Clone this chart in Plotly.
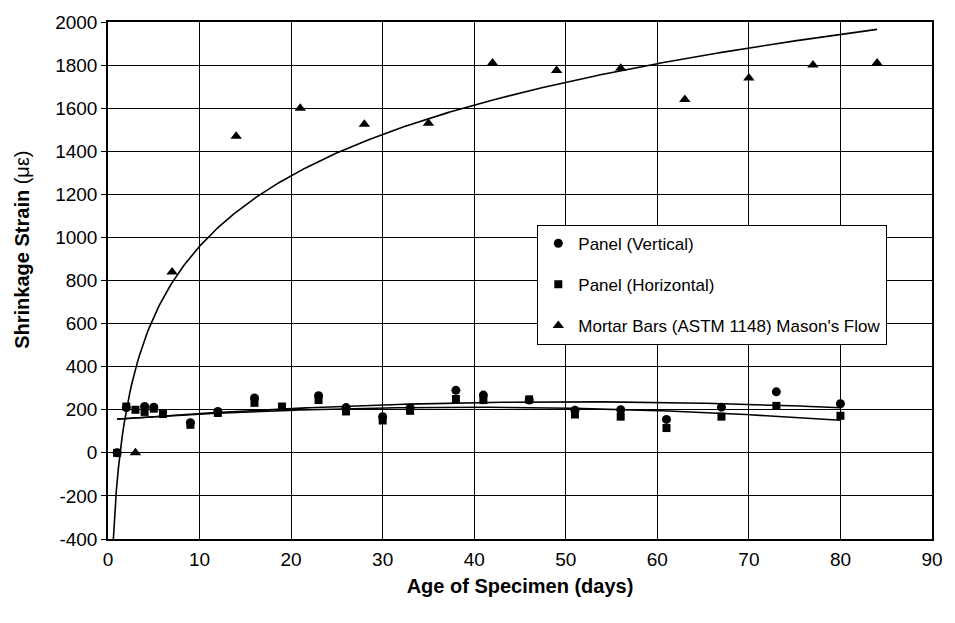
import numpy as np
import plotly.graph_objects as go

# Data
vert_days = [1, 2, 4, 5, 9, 12, 16, 23, 26, 30, 33, 38, 41, 46, 51, 56, 61, 67, 73, 80]
vert_vals = [0, 210, 215, 212, 140, 192, 255, 265, 210, 168, 208, 290, 268, 245, 198, 200, 155, 212, 283, 228]

horiz_days = [1, 2, 3, 4, 5, 6, 9, 12, 16, 19, 23, 26, 30, 33, 38, 41, 46, 51, 56, 61, 67, 73, 80]
horiz_vals = [0, 215, 200, 190, 205, 180, 130, 185, 232, 215, 245, 192, 150, 195, 250, 245, 248, 178, 168, 115, 168, 218, 172]

mortar_days = [3, 7, 14, 21, 28, 35, 42, 49, 56, 63, 70, 77, 84]
mortar_vals = [0, 840, 1470, 1600, 1525, 1530, 1810, 1775, 1785, 1640, 1740, 1800, 1810]

x_ticks = [0, 10, 20, 30, 40, 50, 60, 70, 80, 90]
y_ticks = [-400, -200, 0, 200, 400, 600, 800, 1000, 1200, 1400, 1600, 1800, 2000]
y_tick_text = [str(v) for v in y_ticks]

# Trendlines (fitted from the data)
mx = np.array(mortar_days, float)
my = np.array(mortar_vals, float)
a, b = np.polyfit(np.log(mx), my, 1)
x_log = np.linspace(0.5, max(mortar_days), 400)
y_log = a * np.log(x_log) + b

pv = np.polyfit(vert_days, vert_vals, 2)
ph = np.polyfit(horiz_days, horiz_vals, 2)
x_poly = np.linspace(1, 80, 200)

fig = go.Figure()
fig.add_trace(go.Scatter(x=x_log, y=y_log, mode="lines", line=dict(color="black", width=1.6),
                         showlegend=False, hoverinfo="skip"))
fig.add_trace(go.Scatter(x=x_poly, y=np.polyval(pv, x_poly), mode="lines",
                         line=dict(color="black", width=1.6), showlegend=False, hoverinfo="skip"))
fig.add_trace(go.Scatter(x=x_poly, y=np.polyval(ph, x_poly), mode="lines",
                         line=dict(color="black", width=1.6), showlegend=False, hoverinfo="skip"))

fig.add_trace(go.Scatter(x=vert_days, y=vert_vals, mode="markers", name="Panel (Vertical)",
                         legendgroup="g1",
                         marker=dict(symbol="circle", color="black", size=9)))
fig.add_trace(go.Scatter(x=horiz_days, y=horiz_vals, mode="markers", name="Panel (Horizontal)",
                         legendgroup="g2",
                         marker=dict(symbol="square", color="black", size=8)))
fig.add_trace(go.Scatter(x=mortar_days, y=mortar_vals, mode="markers",
                         name="Mortar Bars (ASTM 1148) Mason's Flow", legendgroup="g3",
                         marker=dict(symbol="triangle-up", color="black", size=10)))

font_family = "Liberation Sans, Arial, sans-serif"

fig.update_layout(
    width=955, height=623,
    margin=dict(l=108, r=22, t=18, b=84),
    paper_bgcolor="white", plot_bgcolor="white",
    font=dict(family=font_family, color="black", size=19),
    xaxis=dict(range=[0, 90], tickvals=x_ticks, showgrid=True, gridcolor="black", gridwidth=1,
               showline=True, linecolor="black", linewidth=1.5, mirror=True,
               ticks="", zeroline=False, ticklabelstandoff=2,
               tickfont=dict(size=19),
               title=dict(text="<b>Age of Specimen (days)</b>", font=dict(size=20), standoff=10)),
    yaxis=dict(range=[-400, 2000], tickvals=y_ticks, ticktext=y_tick_text,
               showgrid=True, gridcolor="black", gridwidth=1,
               showline=True, linecolor="black", linewidth=1.5, mirror=True,
               ticks="outside", ticklen=5, tickcolor="black", zeroline=False,
               tickfont=dict(size=19)),
    legend=dict(x=0.521, y=0.608, xanchor="left", yanchor="top",
                bgcolor="white", bordercolor="black", borderwidth=1,
                font=dict(size=17), itemwidth=30, tracegroupgap=16, traceorder="grouped"),
    showlegend=True,
    annotations=[dict(text="<b>Shrinkage Strain</b> (με)", textangle=-90,
                      xref="paper", yref="paper", x=-0.104, y=0.56,
                      xanchor="center", yanchor="middle", showarrow=False,
                      font=dict(size=20))],
)

fig.write_html("out.html")
